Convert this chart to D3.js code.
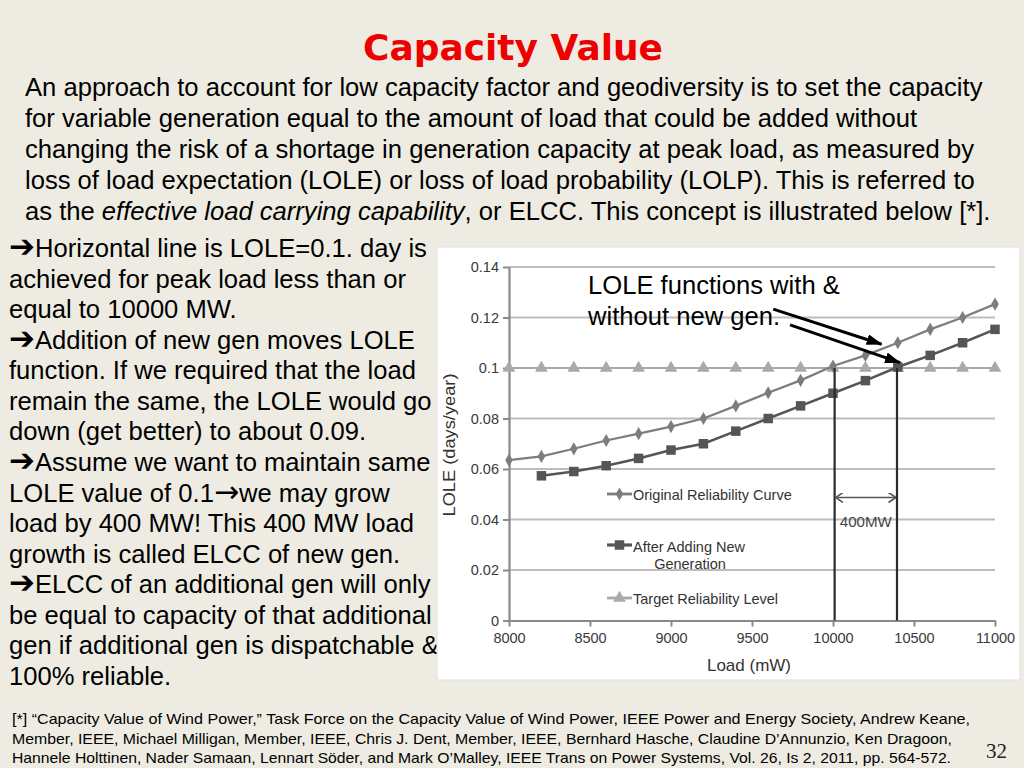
<!DOCTYPE html>
<html><head><meta charset="utf-8">
<script src="https://cdn.jsdelivr.net/npm/d3@7"></script>
<style>body{margin:0;background:#EEECE2;} svg{display:block}</style>
</head><body>
<svg id="c" width="1024" height="768"></svg>
<script>
// ---- data ----
const loads = [8000,8200,8400,8600,8800,9000,9200,9400,9600,9800,10000,10200,10400,10600,10800,11000];
const originalLOLE = [0.0635,0.065,0.068,0.0713,0.074,0.0768,0.080,0.085,0.0902,0.0951,0.1008,0.105,0.110,0.1153,0.120,0.1253];
const afterLoads = [8200,8400,8600,8800,9000,9200,9400,9600,9800,10000,10200,10400,10600,10800,11000];
const afterLOLE = [0.0573,0.059,0.0613,0.0642,0.0675,0.070,0.075,0.080,0.085,0.090,0.095,0.1004,0.105,0.110,0.1153];
const targetLOLE = [0.1,0.1,0.1,0.1,0.1,0.1,0.1,0.1,0.1,0.1,0.1,0.1,0.1,0.1,0.1,0.1];
const yTicks = [0,0.02,0.04,0.06,0.08,0.1,0.12,0.14];
const yTickLabels = ["0","0.02","0.04","0.06","0.08","0.1","0.12","0.14"];
const xTicks = [8000,8500,9000,9500,10000,10500,11000];
const xTickLabels = ["8000","8500","9000","9500","10000","10500","11000"];
const elccLoads = [10010,10395];
const elccLabel = "400MW";
const legendNames = [["Original Reliability Curve"],["After Adding New","Generation"],["Target Reliability Level"]];

const titleText = "Capacity Value";
const paraLines = [
  "An approach to account for low capacity factor and geodiversity is to set the capacity",
  "for variable generation equal to the amount of load that could be added without",
  "changing the risk of a shortage in generation capacity at peak load, as measured by",
  "loss of load expectation (LOLE) or loss of load probability (LOLP). This is referred to"
];
const paraLast = [["as the ",false],["effective load carrying capability",true],[", or ELCC. This concept is illustrated below [*].",false]];
const bulletLines = [
  "\u2794Horizontal line is LOLE=0.1. day is",
  "achieved for peak load less than or",
  "equal to 10000 MW.",
  "\u2794Addition of new gen moves LOLE",
  "function. If we required that the load",
  "remain the same, the LOLE would go",
  "down (get better) to about 0.09.",
  "\u2794Assume we want to maintain same",
  "LOLE value of 0.1\u2192we may grow",
  "load by 400 MW! This 400 MW load",
  "growth is called ELCC of new gen.",
  "\u2794ELCC of an additional gen will only",
  "be equal to capacity of that additional",
  "gen if additional gen is dispatchable &",
  "100% reliable."
];
const noteLines = [
  "[*] \u201CCapacity Value of Wind Power,\u201D Task Force on the Capacity Value of Wind Power, IEEE Power and Energy Society, Andrew Keane,",
  "Member, IEEE, Michael Milligan, Member, IEEE, Chris J. Dent, Member, IEEE, Bernhard Hasche, Claudine D\u2019Annunzio, Ken Dragoon,",
  "Hannele Holttinen, Nader Samaan, Lennart S\u00F6der, and Mark O\u2019Malley, IEEE Trans on Power Systems, Vol. 26, Is 2, 2011, pp. 564-572."
];
const noteWidths = [958, 940, 939];
const annotLines = ["LOLE functions with &", "without new gen."];

// ---- drawing ----
const svg = d3.select("#c");
const F = "'Liberation Sans', Arial, Helvetica, sans-serif";
svg.append("rect").attr("width",1024).attr("height",768).attr("fill","#EEECE2");

// title
svg.append("text").attr("x",363).attr("y",59.5).attr("textLength",300).attr("lengthAdjust","spacingAndGlyphs")
  .attr("font-family","'Comic Sans MS','DejaVu Sans',sans-serif").attr("font-weight","bold").attr("font-size",36)
  .attr("fill","#EE0000").text(titleText);

// paragraph
const para = svg.append("g").attr("font-family",F).attr("font-size",25.6).attr("fill","#000");
paraLines.forEach((t,i)=>para.append("text").attr("x",25).attr("y",96+i*31).text(t));
const last = para.append("text").attr("x",25).attr("y",96+4*31);
paraLast.forEach(([t,it])=>last.append("tspan").attr("font-style",it?"italic":"normal").text(t));

// bullets
const bl = svg.append("g").attr("font-family",F).attr("font-size",25.6).attr("fill","#000");
bulletLines.forEach((t,i)=>{
  const tx = bl.append("text").attr("x",9).attr("y",257+i*30.57);
  const parts = t.split(/([\u2794\u2192])/).filter(p=>p.length);
  parts.forEach(p=>{
    if (p === "\u2794") tx.append("tspan").attr("font-family","'DejaVu Sans',sans-serif").attr("font-weight","bold").attr("font-size",31).attr("dy",1).text(p)
      .clone().remove();
    if (p === "\u2794") { tx.select("tspan:last-child").attr("dy",null); }
    else if (p === "\u2192") tx.append("tspan").attr("font-family","'DejaVu Sans',sans-serif").attr("font-size",30).text(p);
    else tx.append("tspan").text(p);
  });
});

// footnote
const nt = svg.append("g").attr("font-family",F).attr("font-size",14.2).attr("fill","#000");
noteLines.forEach((t,i)=>nt.append("text").attr("x",12).attr("y",724+i*19.5)
  .attr("textLength",noteWidths[i]).attr("lengthAdjust","spacingAndGlyphs").text(t));
svg.append("text").attr("x",986).attr("y",758).attr("font-family","'Liberation Serif','Times New Roman',serif")
  .attr("font-size",21).attr("fill","#222").text("32");

// chart panel
svg.append("rect").attr("x",437).attr("y",247).attr("width",583).attr("height",433).attr("fill","#fff").attr("stroke","#e0e0e0");

const x = d3.scaleLinear().domain([8000,11000]).range([509,995]);
const y = d3.scaleLinear().domain([0,0.14]).range([620.5,267]);
const ch = svg.append("g");

// gridlines
ch.append("g").selectAll("line").data(yTicks.slice(1)).join("line")
  .attr("x1",x(8000)).attr("x2",x(11000)).attr("y1",d=>y(d)).attr("y2",d=>y(d))
  .attr("stroke","#bdbdbd").attr("stroke-width",2);

// axes
const ya = ch.append("g").attr("transform",`translate(${x(8000)},0)`)
  .call(d3.axisLeft(y).tickValues(yTicks).tickFormat((d,i)=>yTickLabels[i]).tickSize(6).tickSizeOuter(0).tickPadding(4));
const xa = ch.append("g").attr("transform",`translate(0,${y(0)})`)
  .call(d3.axisBottom(x).tickValues(xTicks).tickFormat((d,i)=>xTickLabels[i]).tickSize(6).tickSizeOuter(0).tickPadding(6));
[ya,xa].forEach(a=>{
  a.select(".domain").attr("stroke","#8a8a8a").attr("stroke-width",2.2);
  a.selectAll(".tick line").attr("stroke","#8a8a8a").attr("stroke-width",2);
  a.selectAll(".tick text").attr("font-family",F).attr("font-size",14.5).attr("fill","#3a3a3a");
});

// axis titles
ch.append("text").attr("transform",`translate(455,445) rotate(-90)`).attr("text-anchor","middle")
  .attr("font-family",F).attr("font-size",17).attr("fill","#333")
  .attr("textLength",143).attr("lengthAdjust","spacingAndGlyphs").text("LOLE (days/year)");
ch.append("text").attr("x",749).attr("y",671).attr("text-anchor","middle")
  .attr("font-family",F).attr("font-size",17).attr("fill","#333").text("Load (mW)");

// series
const line = d3.line();
const series = [
  {xs:loads, ys:targetLOLE, color:"#a9a9a9", sym:d3.symbolTriangle, size:70, w:2.2},
  {xs:loads, ys:originalLOLE, color:"#7d7d7d", sym:d3.symbolDiamond, size:50, w:2.2},
  {xs:afterLoads, ys:afterLOLE, color:"#555555", sym:d3.symbolSquare, size:90, w:2.6}
];
series.forEach(s=>{
  const pts = s.xs.map((v,i)=>[x(v),y(s.ys[i])]);
  ch.append("path").attr("d",line(pts)).attr("fill","none").attr("stroke",s.color).attr("stroke-width",s.w);
  ch.append("g").selectAll("path").data(pts).join("path")
    .attr("transform",d=>`translate(${d[0]},${d[1]})`)
    .attr("d",d3.symbol(s.sym,s.size)).attr("fill",s.color);
});

// ELCC verticals
ch.append("g").selectAll("line").data(elccLoads).join("line")
  .attr("x1",d=>x(d)).attr("x2",d=>x(d)).attr("y1",y(0.1)).attr("y2",y(0))
  .attr("stroke","#2a2a2a").attr("stroke-width",2.2);

// markers
const defs = svg.append("defs");
defs.append("marker").attr("id","ah").attr("viewBox","0 0 16 11").attr("refX",15).attr("refY",5.5)
  .attr("markerWidth",16).attr("markerHeight",11).attr("markerUnits","userSpaceOnUse").attr("orient","auto")
  .append("path").attr("d","M0,0 L16,5.5 L0,11 z").attr("fill","#000");
defs.append("marker").attr("id","chev").attr("viewBox","0 0 8 10").attr("refX",7.5).attr("refY",5)
  .attr("markerWidth",8).attr("markerHeight",10).attr("markerUnits","userSpaceOnUse").attr("orient","auto-start-reverse")
  .append("path").attr("d","M0,0 L7.5,5 L0,10").attr("fill","none").attr("stroke","#555").attr("stroke-width",1.6);

// 400MW double arrow
const ay = y(0.0487);
ch.append("line").attr("x1",x(elccLoads[0])+1).attr("x2",x(elccLoads[1])-1).attr("y1",ay).attr("y2",ay)
  .attr("stroke","#555").attr("stroke-width",1.6).attr("marker-start","url(#chev)").attr("marker-end","url(#chev)");
ch.append("text").attr("x",(x(elccLoads[0])+x(elccLoads[1]))/2).attr("y",527).attr("text-anchor","middle")
  .attr("font-family",F).attr("font-size",14.5).attr("fill","#444").attr("textLength",52).attr("lengthAdjust","spacingAndGlyphs").text(elccLabel);

// legend
const lg = ch.append("g").attr("font-family",F).attr("font-size",14.5).attr("fill","#333");
const legY = [494, 545, 598];
const legSeries = [series[1], series[2], series[0]];
legSeries.forEach((s,i)=>{
  lg.append("line").attr("x1",607).attr("x2",632).attr("y1",legY[i]).attr("y2",legY[i]).attr("stroke",s.color).attr("stroke-width",s.w+0.6);
  lg.append("path").attr("transform",`translate(619.5,${legY[i]})`).attr("d",d3.symbol(s.sym,s.size)).attr("fill",s.color);
});
lg.append("text").attr("x",633).attr("y",500).text(legendNames[0][0]);
lg.append("text").attr("x",633).attr("y",551.5).text(legendNames[1][0]);
lg.append("text").attr("x",690).attr("y",569).attr("text-anchor","middle").text(legendNames[1][1]);
lg.append("text").attr("x",633).attr("y",604).text(legendNames[2][0]);

// annotation text
const an = svg.append("g").attr("font-family",F).attr("font-size",25.6).attr("fill","#000");
annotLines.forEach((t,i)=>an.append("text").attr("x",588).attr("y",294+i*31.3).text(t));

// annotation arrows (data coordinates)
const arrows = [[[9631,0.1233],[10300,0.1094]],[[9735,0.1171],[10414,0.1021]]];
svg.append("g").selectAll("line").data(arrows).join("line")
  .attr("x1",d=>x(d[0][0])).attr("y1",d=>y(d[0][1])).attr("x2",d=>x(d[1][0])).attr("y2",d=>y(d[1][1]))
  .attr("stroke","#000").attr("stroke-width",3).attr("marker-end","url(#ah)");
</script>
</body></html>
